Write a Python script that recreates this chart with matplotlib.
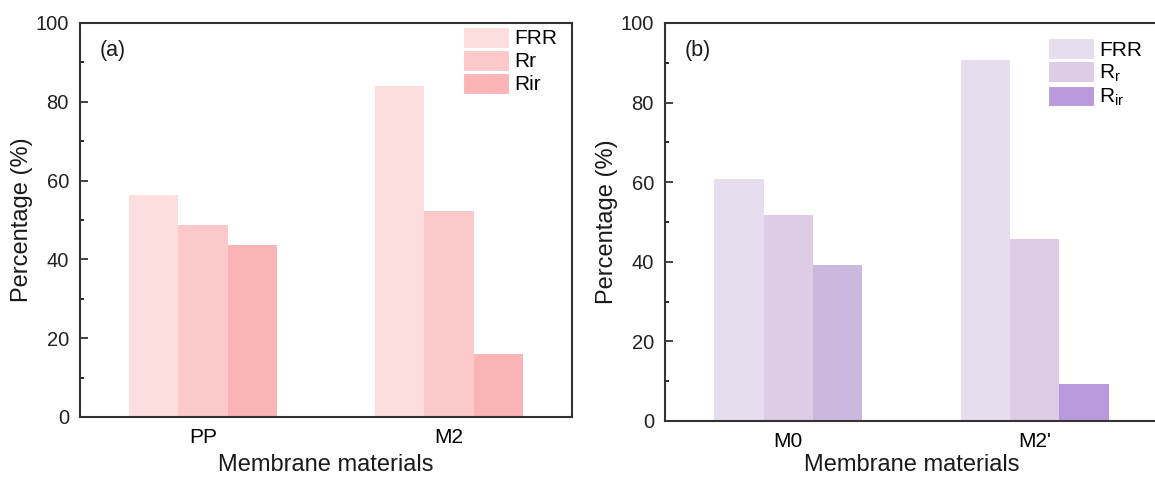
import matplotlib
matplotlib.use("Agg")
import matplotlib.pyplot as plt
import numpy as np

plt.rcParams['font.family'] = ['Liberation Sans', 'DejaVu Sans']
plt.rcParams['mathtext.fontset'] = 'custom'
plt.rcParams['mathtext.rm'] = 'Liberation Sans'
plt.rcParams['mathtext.it'] = 'Liberation Sans'

# Panel (a)
cats_a = ["PP", "M2"]
frr_a = [56.4, 84.1]
rr_a = [48.7, 52.2]
rir_a = [43.7, 15.9]
labels_a = ["FRR", "Rr", "Rir"]

# Panel (b)
cats_b = ["M0", "M2'"]
frr_b = [60.9, 90.8]
rr_b = [51.8, 45.8]
rir_b = [39.3, 9.4]
labels_b = ["FRR", "R$_r$", "R$_{ir}$"]

yticks = [0, 20, 40, 60, 80, 100]

W, H = 1155, 480
fig = plt.figure(figsize=(W / 100, H / 100), dpi=100)
fig.patch.set_facecolor('white')

ax1 = fig.add_axes([80 / W, (H - 417) / H, 492 / W, 394 / H])
ax2 = fig.add_axes([665 / W, (H - 421) / H, 493 / W, 398 / H])

cols_a = [["#FDDEDF"] * 2, ["#FCC9CA"] * 2, ["#FBB4B5"] * 2]
cols_b = [["#E6DDEE"] * 2, ["#DCCCE6"] * 2, ["#CBB8DE", "#B998DC"]]
leg_b = ["#E6DDEE", "#DCCCE6", "#B998DC"]
leg_a = ["#FDDEDF", "#FCC9CA", "#FBB4B5"]

width = 0.2
offsets = [-0.2, 0.0, 0.2]


def draw(ax, cats, series, labels, cols, legcols, tag, legpos, xlpad):
    x = np.arange(len(cats))
    for s, off, c in zip(series, offsets, cols):
        ax.bar(x + off, s, width, color=c, edgecolor='none', linewidth=0)
    ax.set_xlim(-0.5, 1.5)
    ax.set_ylim(0, 100)
    ax.set_xticks(x)
    ax.set_xticklabels(cats, fontsize=15)
    ax.set_yticks(yticks)
    ax.set_yticklabels([str(v) for v in yticks], fontsize=14.5)
    ax.set_yticks([10, 30, 50, 70, 90], minor=True)
    ax.tick_params(axis='x', length=0, pad=8)
    ax.tick_params(axis='y', which='major', direction='in', length=6, width=1.2, pad=8, colors='#222222')
    ax.tick_params(axis='y', which='minor', direction='in', length=3, width=1.2)
    for sp in ax.spines.values():
        sp.set_linewidth(1.5)
        sp.set_color('#333333')
    ax.set_xlabel("Membrane materials", fontsize=17, labelpad=xlpad, color='#1a1a1a')
    ax.set_ylabel("Percentage (%)", fontsize=17, labelpad=2, color='#1a1a1a')
    ax.text(0.04, 0.93, tag, transform=ax.transAxes, fontsize=15.5, va='center', ha='left', color='#1a1a1a')
    handles = [plt.Rectangle((0, 0), 1, 1, facecolor=c, edgecolor='white', linewidth=0.8) for c in legcols]
    ax.legend(handles, labels, loc='upper left', bbox_to_anchor=legpos, frameon=False,
              fontsize=15, handlelength=2.2, handleheight=1.15, labelspacing=0.08,
              handletextpad=0.25, borderpad=0, borderaxespad=0)


draw(ax1, cats_a, [frr_a, rr_a, rir_a], labels_a, cols_a, leg_a, "(a)", (0.778, 0.99), 5)
draw(ax2, cats_b, [frr_b, rr_b, rir_b], labels_b, cols_b, leg_b, "(b)", (0.777, 0.962), 2)

fig.savefig("out.png", dpi=100, facecolor='white')
